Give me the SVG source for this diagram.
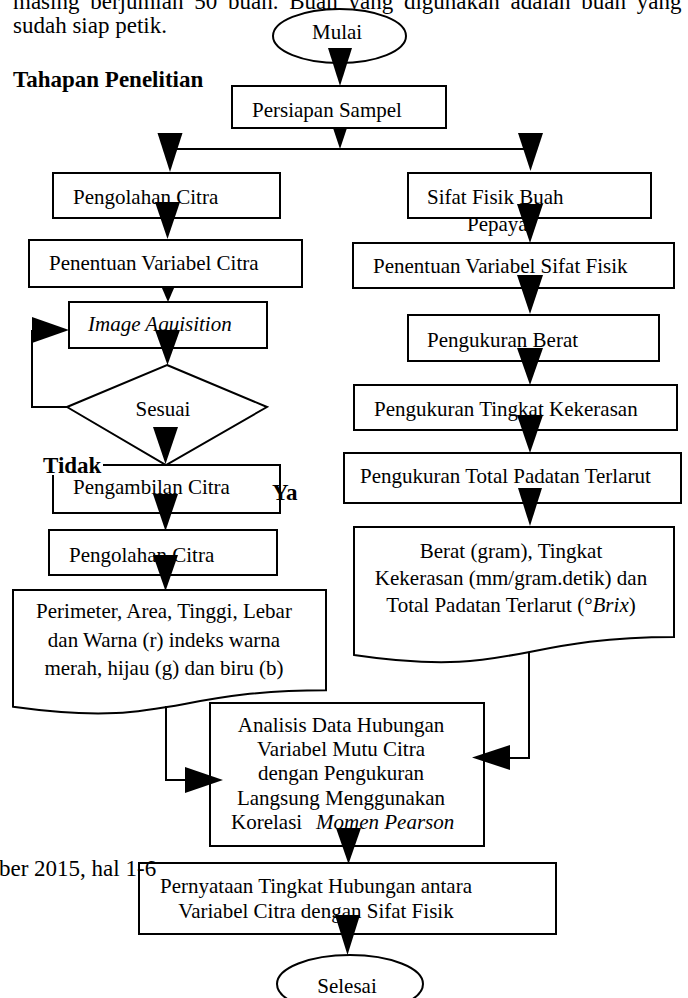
<svg xmlns="http://www.w3.org/2000/svg" width="688" height="998" viewBox="0 0 688 998">
<style>
text{font-family:"Liberation Serif","Times New Roman",serif;fill:#000}
.lb{font-size:21px}
.bd{font-size:23px}
.b{font-weight:bold}
.it{font-style:italic}
.mid{text-anchor:middle}
.bx{fill:#fff;stroke:#000;stroke-width:2}
.ln{fill:none;stroke:#000;stroke-width:2}
.ah{fill:#000;stroke:none}
</style>
<rect width="688" height="998" fill="#fff"/>
<g id="body-text">
<text class="bd" x="13" y="9" word-spacing="5">masing berjumlah 50 buah. Buah yang digunakan adalah buah yang</text>
<text class="bd" x="13" y="33">sudah siap petik.</text>
<text class="bd b" x="13" y="87">Tahapan Penelitian</text>
</g>
<g id="mulai"><ellipse class="bx" cx="339.5" cy="36" rx="66.5" ry="27"/><text class="lb" x="312" y="39">Mulai</text></g>
<g id="persiapan"><rect class="bx" x="232" y="86" width="214" height="42"/><text class="lb" x="252" y="117">Persiapan Sampel</text></g>
<g id="pengolahan1"><rect class="bx" x="53" y="173" width="227" height="45"/><text class="lb" x="73" y="204">Pengolahan Citra</text></g>
<g id="penentuan-citra"><rect class="bx" x="29" y="240" width="273" height="47"/><text class="lb" x="49" y="270">Penentuan Variabel Citra</text></g>
<g id="image-aquisition"><rect class="bx" x="69" y="302" width="198" height="46"/><text class="lb it" x="88" y="331">Image Aquisition</text></g>
<g id="sesuai"><polygon class="bx" points="167,365 267,407 166,465 67,407"/><text class="lb mid" x="163" y="416">Sesuai</text></g>
<g id="pengambilan"><rect class="bx" x="53" y="465" width="227" height="48"/><text class="lb" x="73" y="494">Pengambilan Citra</text></g>
<g id="tidak"><rect x="43" y="453" width="60" height="22" fill="#fff"/><text class="bd b" x="43" y="473">Tidak</text></g>
<g id="ya"><text class="bd b" x="272" y="500">Ya</text></g>
<g id="pengolahan2"><rect class="bx" x="49" y="530" width="228" height="45"/><text class="lb" x="69" y="562">Pengolahan Citra</text></g>
<g id="doc-citra"><path class="bx" d="M13,590 H326 V690.25 C169.5,690.25 169.5,728.5 13,706.75 Z"/>
<text class="lb mid" x="164" y="618">Perimeter, Area, Tinggi, Lebar</text>
<text class="lb mid" x="164" y="647">dan Warna (r) indeks warna</text>
<text class="lb mid" x="164" y="675">merah, hijau (g) dan biru (b)</text></g>
<g id="sifat-fisik"><rect class="bx" x="408" y="173" width="243" height="45"/><text class="lb" x="427" y="204">Sifat Fisik Buah</text><text class="lb" x="467" y="231">Pepaya</text></g>
<g id="penentuan-sifat"><rect class="bx" x="353" y="243" width="321" height="45"/><text class="lb" x="373" y="273">Penentuan Variabel Sifat Fisik</text></g>
<g id="berat"><rect class="bx" x="408" y="315" width="251" height="46"/><text class="lb" x="427" y="347">Pengukuran Berat</text></g>
<g id="kekerasan"><rect class="bx" x="354" y="385" width="323" height="45"/><text class="lb" x="374" y="416">Pengukuran Tingkat Kekerasan</text></g>
<g id="total-padatan"><rect class="bx" x="344" y="453" width="337" height="50"/><text class="lb" x="360" y="483">Pengukuran Total Padatan Terlarut</text></g>
<g id="doc-fisik"><path class="bx" d="M354,527 H674 V637 C514,637 514,678.8 354,655 Z"/>
<text class="lb mid" x="511" y="558">Berat (gram), Tingkat</text>
<text class="lb mid" x="511" y="585">Kekerasan (mm/gram.detik) dan</text>
<text class="lb mid" x="511" y="612">Total Padatan Terlarut (°<tspan class="it">Brix</tspan>)</text></g>
<g id="analisis"><rect class="bx" x="210" y="703" width="274" height="143"/>
<text class="lb mid" x="341" y="732">Analisis Data Hubungan</text>
<text class="lb mid" x="341" y="756">Variabel Mutu Citra</text>
<text class="lb mid" x="341" y="780">dengan Pengukuran</text>
<text class="lb mid" x="341" y="805">Langsung Menggunakan</text>
<text class="lb" x="231" y="829">Korelasi <tspan class="it" x="316">Momen Pearson</tspan></text></g>
<g id="pernyataan"><rect class="bx" x="139" y="863" width="417" height="71"/>
<text class="lb mid" x="316" y="893">Pernyataan Tingkat Hubungan antara</text>
<text class="lb mid" x="316" y="918">Variabel Citra dengan Sifat Fisik</text></g>
<g id="footer-text"><text class="bd" x="-1" y="876">ber 2015, hal 1-6</text></g>
<g id="selesai"><ellipse class="bx" cx="350" cy="984" rx="73" ry="29"/><text class="lb mid" x="347" y="993">Selesai</text></g>
<g id="connectors">
<line class="ln" x1="170" y1="149" x2="530" y2="149"/>
<polyline class="ln" points="67,407 32,407 32,330"/>
<polyline class="ln" points="529,652 529,758 510,758"/>
<polyline class="ln" points="166,706 166,780 185,780"/>
<polygon class="ah" points="328,48 352,48 340,86"/>
<polygon class="ah" points="333,128 347,128 340,149"/>
<polygon class="ah" points="157.5,133 182.5,133 170,172"/>
<polygon class="ah" points="518,133 543,133 530.5,171"/>
<polygon class="ah" points="155,202 180,202 167.5,239"/>
<polygon class="ah" points="161.5,287 174.5,287 168,302"/>
<polygon class="ah" points="155,330 180,330 167.5,365"/>
<polygon class="ah" points="32,317 32,343 69,330"/>
<polygon class="ah" points="153,427 178,427 165.5,464"/>
<polygon class="ah" points="153,494 178,494 165.5,531"/>
<polygon class="ah" points="153,555 178,555 165.5,591"/>
<polygon class="ah" points="517,204 543,204 530,243"/>
<polygon class="ah" points="517,275 543,275 530,314"/>
<polygon class="ah" points="517,348 543,348 530,385"/>
<polygon class="ah" points="517,415 543,415 530,453"/>
<polygon class="ah" points="518,488 542,488 530,526"/>
<polygon class="ah" points="510,745 510,770 472,757.5"/>
<polygon class="ah" points="185,767 185,793 223,780"/>
<polygon class="ah" points="336,828 361,828 348.5,864"/>
<polygon class="ah" points="335,915 360,915 347.5,955"/>
</g>
</svg>
